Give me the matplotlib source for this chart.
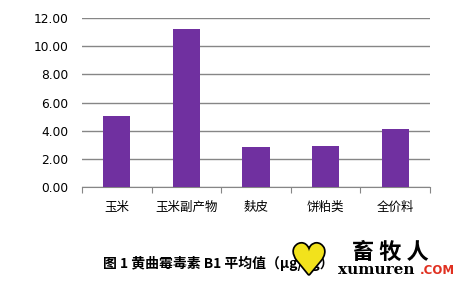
import matplotlib
matplotlib.use("Agg")
import matplotlib.pyplot as plt
import matplotlib.patheffects as pe

plt.rcParams['font.family'] = ['Noto Sans CJK SC', 'DejaVu Sans']

categories = ['玉米', '玉米副产物', '麸皮', '饼粕类', '全价料']
values = [5.05, 11.20, 2.85, 2.93, 4.12]
yticks = [0, 2, 4, 6, 8, 10, 12]
title = '图 1 黄曲霉毒素 B1 平均值（μg/kg）'

fig = plt.figure(figsize=(4.64, 2.84), dpi=100)
ax = fig.add_axes([82/464, 1-187/284, 348/464, 169/284])

x = list(range(len(categories)))
ax.bar(x, values, width=0.39, color='#7030A0', zorder=3)
ax.set_xlim(-0.5, len(categories) - 0.5)
ax.set_ylim(0, 12)
ax.set_yticks(yticks)
ax.set_yticklabels([f'{v:.2f}' for v in yticks], fontsize=8.8, family=['DejaVu Sans'])
ax.yaxis.grid(True, color='#868686', linewidth=1.0, zorder=0)
ax.tick_params(axis='y', length=0, pad=10)

ax.set_xticks([i - 0.5 for i in range(len(categories) + 1)], minor=False)
ax.set_xticklabels([])
ax.set_xticks(x, minor=True)
ax.set_xticklabels(categories, minor=True, fontsize=9, va='baseline')
ax.tick_params(axis='x', which='major', length=4, color='#868686', direction='out')
ax.tick_params(axis='x', which='minor', length=0, pad=17)

for s in ['top', 'right', 'left']:
    ax.spines[s].set_visible(False)
ax.spines['bottom'].set_color('#868686')

fig.text(103/464, 1-263/284, title, fontsize=10, fontweight='bold', va='center', ha='left')

# watermark
fig.text(309/464, 1-262/284, '♥', fontsize=30, color='#F2E21C', ha='center', va='center',
         family=['DejaVu Sans'],
         path_effects=[pe.withStroke(linewidth=2.5, foreground='black')])
fig.text(390/464, 1-252/284, '畜 牧 人', fontsize=16, fontweight='bold', ha='center', va='center')
fig.text(338/464, 1-270/284, 'xumuren', fontsize=11, fontweight='bold', ha='left', va='center',
         family=['DejaVu Serif'])
fig.text(420/464, 1-271/284, '.COM', fontsize=8.5, fontweight='bold', color='#E03020', ha='left', va='center',
         family=['DejaVu Sans'])

fig.savefig('out.png', dpi=100)
